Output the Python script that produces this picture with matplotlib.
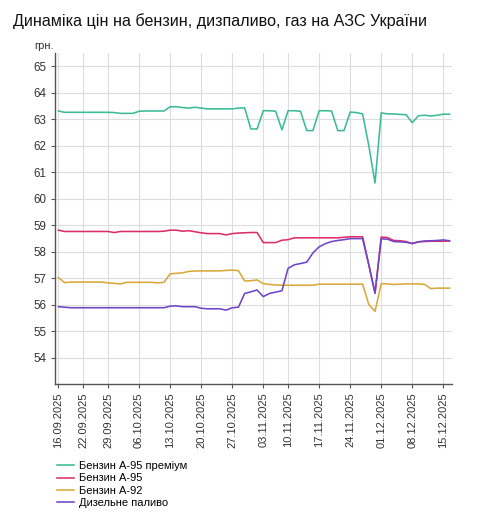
import matplotlib
matplotlib.use("Agg")
import matplotlib.pyplot as plt
import pandas as pd

plt.rcParams['font.family'] = ['Liberation Sans', 'DejaVu Sans']

# ---- data ----
dates = [d for d in pd.bdate_range("2025-09-16", periods=66)
         if d.strftime("%d.%m.%Y") not in ("26.09.2025", "07.11.2025")]
date_labels = [d.strftime("%d.%m.%Y") for d in dates][:64]

tick_dates = ["16.09.2025", "22.09.2025", "29.09.2025", "06.10.2025", "13.10.2025",
              "20.10.2025", "27.10.2025", "03.11.2025", "10.11.2025", "17.11.2025",
              "24.11.2025", "01.12.2025", "08.12.2025", "15.12.2025"]

premium = [63.31, 63.26, 63.26, 63.26, 63.26, 63.26, 63.26, 63.26, 63.26, 63.25,
           63.22, 63.22, 63.22, 63.30, 63.31, 63.31, 63.31, 63.31, 63.47, 63.47,
           63.44, 63.42, 63.45, 63.42, 63.39, 63.39, 63.39, 63.39, 63.39, 63.42,
           63.43, 62.63, 62.63, 63.32, 63.32, 63.30, 62.60, 63.32, 63.32, 63.30,
           62.57, 62.57, 63.32, 63.32, 63.31, 62.57, 62.57, 63.27, 63.25, 63.20,
           62.00, 60.59, 63.24, 63.20, 63.20, 63.18, 63.17, 62.87, 63.13, 63.15,
           63.12, 63.15, 63.19, 63.19]

a95 = [58.81, 58.76, 58.76, 58.76, 58.76, 58.76, 58.76, 58.76, 58.76, 58.72,
       58.76, 58.76, 58.76, 58.76, 58.76, 58.76, 58.76, 58.77, 58.81, 58.81,
       58.77, 58.79, 58.75, 58.71, 58.68, 58.68, 58.68, 58.63, 58.68, 58.70,
       58.71, 58.72, 58.72, 58.34, 58.34, 58.34, 58.43, 58.45, 58.52, 58.52,
       58.52, 58.52, 58.52, 58.52, 58.52, 58.52, 58.54, 58.56, 58.56, 58.56,
       57.50, 56.45, 58.55, 58.53, 58.42, 58.41, 58.38, 58.30, 58.37, 58.38,
       58.39, 58.39, 58.39, 58.40]

a92 = [57.02, 56.83, 56.85, 56.85, 56.85, 56.85, 56.85, 56.85, 56.82, 56.80,
       56.78, 56.84, 56.84, 56.84, 56.84, 56.84, 56.82, 56.84, 57.16, 57.18,
       57.20, 57.25, 57.27, 57.27, 57.27, 57.27, 57.27, 57.29, 57.30, 57.28,
       56.89, 56.90, 56.93, 56.79, 56.76, 56.74, 56.73, 56.73, 56.73, 56.73,
       56.73, 56.73, 56.77, 56.77, 56.77, 56.77, 56.77, 56.77, 56.77, 56.77,
       56.00, 55.74, 56.79, 56.78, 56.76, 56.77, 56.78, 56.78, 56.78, 56.76,
       56.60, 56.62, 56.62, 56.62]

diesel = [55.92, 55.90, 55.88, 55.88, 55.88, 55.88, 55.88, 55.88, 55.88, 55.88,
          55.88, 55.88, 55.88, 55.88, 55.88, 55.88, 55.88, 55.88, 55.94, 55.95,
          55.92, 55.92, 55.92, 55.86, 55.84, 55.84, 55.84, 55.79, 55.88, 55.90,
          56.42, 56.48, 56.55, 56.30, 56.42, 56.47, 56.52, 57.37, 57.50, 57.55,
          57.60, 57.95, 58.18, 58.30, 58.38, 58.42, 58.45, 58.49, 58.49, 58.49,
          57.50, 56.42, 58.48, 58.47, 58.38, 58.37, 58.35, 58.31, 58.37, 58.40,
          58.41, 58.42, 58.44, 58.41]

series_names = ["Бензин А-95 преміум", "Бензин А-95", "Бензин А-92", "Дизельне паливо"]
series_values = [premium, a95, a92, diesel]
colors = ["#3dbb98", "#dc2f6a", "#d8a93a", "#6f46c6"]

y_ticks = list(range(54, 66))

# ---- figure ----
fig = plt.figure(figsize=(4.9, 5.21), dpi=100)
ax = fig.add_axes([55 / 490, 1 - 384 / 521, (452 - 55) / 490, (384 - 53) / 521])

x = list(range(len(date_labels)))
handles = []
for name, vals, c in zip(series_names, series_values, colors):
    h, = ax.plot(x, vals, color=c, lw=1.15, label=name, solid_joinstyle='round')
    handles.append(h)

tick_pos = [date_labels.index(t) for t in tick_dates]
ax.set_xticks(tick_pos)
ax.set_xticklabels(tick_dates, rotation=90, fontsize=8, color="#333333")
ax.set_yticks(y_ticks)
ax.set_yticklabels([str(v) for v in y_ticks], fontsize=8.3, color="#333333")
ax.set_xlim(-0.55, 63.4)
ax.set_ylim(53, 65.5)

ax.grid(True, color="#dddddd", lw=0.8)
ax.set_axisbelow(True)
for s in ("top", "right"):
    ax.spines[s].set_visible(False)
for s in ("left", "bottom"):
    ax.spines[s].set_color("#555555")
    ax.spines[s].set_linewidth(1.0)
ax.tick_params(axis="both", direction="out", length=3, width=0.8, color="#555555", pad=3)

fig.text(44 / 490, 1 - 46 / 521, "грн.", fontsize=8, color="#333333",
         ha="center", va="center")

fig.text(13 / 490, 1 - 21 / 521, "Динаміка цін на бензин, дизпаливо, газ на АЗС України",
         fontsize=11.6, color="#111111", ha="left", va="center")

fig.legend(handles=handles, loc="upper left", bbox_to_anchor=(57 / 490, 1 - 461 / 521),
           frameon=False, fontsize=8, handlelength=1.5, handletextpad=0.5,
           labelspacing=0.22, borderpad=0, borderaxespad=0)

fig.savefig("out.png", dpi=100)
